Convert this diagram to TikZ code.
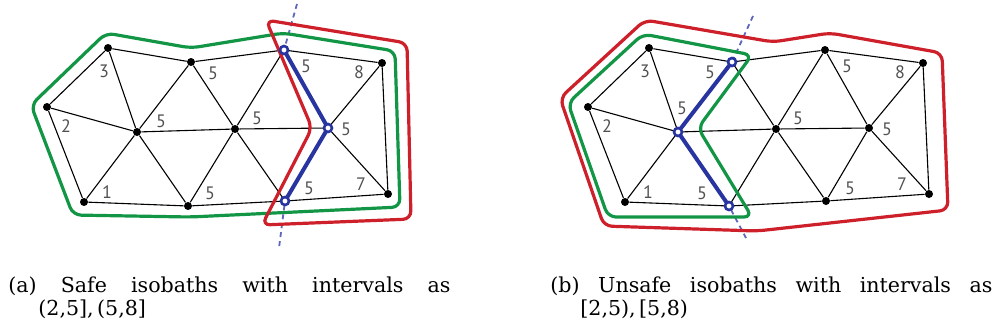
\documentclass[tikz,border=0pt]{standalone}
\usepackage{fontspec}
\setmainfont{DejaVu Serif}
\newfontfamily\numfont{PT Sans}
\usetikzlibrary{arrows.meta}

\definecolor{isogreen}{RGB}{18,150,70}
\definecolor{isored}{RGB}{205,32,42}
\definecolor{isoblue}{RGB}{40,52,160}
\definecolor{numgray}{RGB}{80,80,80}

\tikzset{
  dot/.style={circle,fill=black,inner sep=0pt,minimum size=4pt},
  opendot/.style={circle,draw=isoblue,fill=white,line width=1.3pt,inner sep=0pt,minimum size=4pt},
  edge/.style={line width=0.55pt},
  num/.style={font=\numfont\fontsize{9}{9}\selectfont,text=numgray,inner sep=0pt},
  greenloop/.style={isogreen,line width=1.6pt,rounded corners=4pt},
  redloop/.style={isored,line width=1.6pt,rounded corners=4pt},
  iso/.style={isoblue,line width=2pt},
  cut/.style={isoblue!75!white,line width=0.9pt,dash pattern=on 2.5pt off 2pt},
  subcap/.style={anchor=north west,text width=221pt,align=justify,inner sep=0pt,
    font=\fontsize{10.3}{11.5}\selectfont}
}

\begin{document}
\begin{tikzpicture}[x=0.5pt,y=-0.5pt]
  \useasboundingbox (0,0) rectangle (995,334);
  % the same mesh in both panels
  \foreach \p/\dx in {L/0,R/541}{
    \begin{scope}[shift={(\dx,0)},name prefix=\p-]
      \foreach \n/\x/\y in {a/108/48,b/191/62,c/284/50,d/382/63,e/47/107,f/137/132,
                           g/235/129,h/328/128,i/84/202,j/188/206,k/285/201,l/388/194}
        \node[dot] (\n) at (\x,\y) {};
      \foreach \s/\t in {e/a,a/b,b/c,c/d,d/l,l/k,k/j,j/i,i/e,e/f,a/f,f/b,f/g,f/i,f/j,
                         b/g,c/g,g/j,g/k,g/h,c/h,h/k,h/d,h/l}
        \draw[edge] (\s)--(\t);
      \foreach \n/\x/\y/\t in {n3/104/71/3,n8/359/72/8,n2/66/126/2,n1/107/192/1,n7/361/184/7,
                              ng/257/118/5,nc/306/66/5,nh/346/129/5,nk/309/188/5}
        \node[num] (\n) at (\x,\y) {\t};
    \end{scope}
  }
  \node[num] (L-nb) at (213,73) {5};
  \node[num] (L-nf) at (161,121) {5};
  \node[num] (L-nj) at (210,193) {5};
  \node[num] (R-nb) at (710,72) {5};
  \node[num] (R-nf) at (682,108) {5};
  \node[num] (R-nj) at (702,193) {5};

  % (a) safe
  \coordinate (L-top) at (297,4);
  \coordinate (L-bot) at (279,248);
  \draw[cut] (L-top)--(L-c);
  \draw[cut] (L-k)--(L-bot);
  \draw[greenloop] (106,33)--(191,48)--(283,33)--(395,51)--(400,207)--(190,217)--(73,215)--(31,105)--cycle;
  \draw[redloop] (266,20)--(407,43)--(411,219)--(262,225)--(312,128)--cycle;
  \draw[iso] (L-c)--(L-h)--(L-k);
  \foreach \n in {c,h,k}{\node[opendot] (L-o\n) at (L-\n) {};}

  % (b) unsafe
  \coordinate (R-top) at (753,16);
  \coordinate (R-bot) at (746,238);
  \draw[cut] (R-top)--(R-b);
  \draw[cut] (R-j)--(R-bot);
  \draw[greenloop] (643,34)--(752,55)--(698,128)--(752,217)--(608,217)--(568,103)--cycle;
  \draw[redloop] (645,20)--(773,42)--(830,33)--(942,53)--(948,210)--(757,231)--(604,226)--(560,98)--cycle;
  \draw[iso] (R-b)--(R-f)--(R-j);
  \foreach \n in {b,f,j}{\node[opendot] (R-o\n) at (R-\n) {};}

  \node[subcap] (capa) at (8,276) {(a) Safe isobaths with intervals as\linebreak
    \hspace*{15pt}\mbox{(2,5],\,(5,8]}};
  \node[subcap] (capb) at (550,276) {(b) Unsafe isobaths with intervals as\linebreak
    \hspace*{15pt}\mbox{[2,5),\,[5,8)}};
\end{tikzpicture}
\end{document}
